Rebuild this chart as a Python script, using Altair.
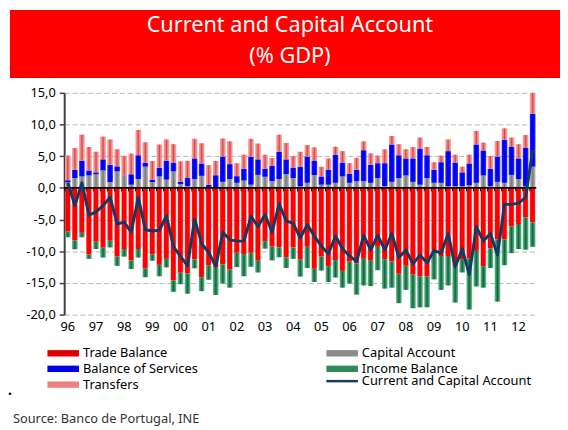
import altair as alt
import pandas as pd

FONT = "Noto Sans"

years = ["96", "97", "98", "99", "00", "01", "02", "03", "04", "05",
         "06", "07", "08", "09", "10", "11", "12"]
quarters = [f"{y}Q{q}" for y in years for q in (1, 2, 3, 4)][:67]

capital = [0.9, 1.55, 1.8, 1.95, 2.15, 2.75, 0.9, 2.6, 1.9, 0.5, 1.4, 3.35, 0.9, 1.8, 1.3, 2.6,
           0.6, 0.25, 1.4, 1.9,
           0.1, 0.05, 0.95, 1.4, 0.8, 1.15, 0.5, 2.05, 1.75, 1.05, 1.4, 2.15, 1.55, 0.25, 0.8, 2.05,
           0.5, 0.5, 0.8, 1.8, 0.8, 1.05, 1.05, 0.8,
           1.55, 0.3, 0.95, 1.55, 1.95, 0.95, 0.5, 1.55, 0.8, 0.8, 0.25, 0.25, 0.25, 0.4, 0.8, 1.95,
           0.25, 0.95, 0.8, 2.05, 1.4, 0.25, 3.35]
services = [0.3, 1.3, 2.5, 0.8, 0.3, 1.75, 2.75, 0.8, 0.05, 1.65, 3.75, 0.6, 0.4, 1.4, 3.0, 1.4,
            0.4, 1.3, 3.25, 1.95,
            0.4, 1.95, 4.0, 2.35, 1.05, 1.85, 4.4, 2.45, 1.25, 2.45, 4.3, 2.35, 1.65, 3.1, 4.15, 2.2,
            1.3, 2.35, 4.4, 2.2, 1.4, 1.8, 4.9, 2.85,
            2.35, 3.6, 5.9, 3.6, 2.7, 3.7, 5.7, 3.6, 2.05, 3.25, 5.55, 3.75, 2.2, 3.45, 6.05, 3.95,
            2.75, 4.0, 6.8, 4.4, 3.25, 6.05, 8.35]
transfers = [3.9, 3.45, 4.1, 3.7, 3.25, 3.6, 4.0, 2.7, 3.1, 3.25, 4.0, 3.25, 2.95, 3.65, 3.35, 2.9,
             3.2, 2.75, 3.1, 3.2,
             3.1, 2.25, 2.85, 3.6, 2.05, 2.25, 2.85, 2.5, 2.25, 1.2, 2.7, 2.6, 1.85, 2.35, 1.8, 2.15,
             1.55, 1.8, 1.3, 1.8, 1.7, 1.9, 1.4, 1.8,
             1.2, 2.2, 1.35, 1.75, 1.45, 1.8, 1.75, 1.3, 1.2, 1.05, 1.85, 1.25, 0.9, 1.4, 2.15, 1.25,
             2.05, 2.45, 1.8, 1.5, 2.25, 2.05, 3.3]
trade = [-6.9, -8.3, -7.1, -10.5, -8.5, -9.45, -8.35, -10.85, -9.65, -11.45, -9.65, -12.75, -10.5, -12.15, -11.2, -14.6,
         -13.4, -13.5, -11.3, -14.1,
         -12.2, -12.6, -12.1, -12.9, -10.25, -10.45, -10.25, -11.5, -8.4, -9.25, -9.4, -10.95, -9.4, -11.25, -9.3, -12.75,
         -10.85, -12.35, -11.4, -13.1, -11.65, -11.9, -11.2, -11.5,
         -9.3, -11.25, -11.6, -13.55, -12.3, -13.7, -13.95, -13.95, -9.8, -10.75, -10.75, -12.4, -11.25, -11.1, -9.95, -12.35,
         -9.55, -8.15, -8.15, -6.1, -5.7, -4.65, -5.45]
income = [-0.9, -1.4, -0.7, -0.7, -1.15, -1.55, -1.05, -1.45, -1.2, -1.35, -1.35, -1.35, -1.0, -1.8, -1.35, -1.8,
          -1.8, -3.2, -1.4, -2.2,
          -2.3, -4.3, -3.0, -2.85, -2.25, -3.5, -2.2, -1.85, -1.2, -2.2, -1.55, -1.7, -1.8, -2.75, -3.35, -2.1,
          -2.2, -2.5, -2.75, -2.65, -3.45, -4.95, -4.2, -4.0,
          -3.7, -4.65, -4.15, -4.65, -3.8, -5.3, -4.9, -4.9, -4.65, -5.35, -4.65, -5.7, -2.1, -8.1, -5.6, -3.4,
          -3.1, -9.8, -4.05, -4.2, -3.95, -5.1, -3.85]
current_capital = [0.8, -2.8, 0.8, -4.3, -3.8, -2.8, -1.45, -5.7, -5.4, -7.0, -1.5, -6.6, -6.8, -6.7, -4.4, -9.3,
                   -10.8, -12.3, -4.9, -8.8,
                   -10.2, -12.4, -7.0, -8.2, -8.4, -8.4, -4.5, -6.1, -4.2, -7.0, -2.5, -5.2, -5.6, -7.9, -5.8, -7.6,
                   -9.2, -10.4, -7.6, -9.6, -10.75, -11.6, -7.5, -9.8,
                   -7.5, -9.8, -7.2, -11.0, -9.8, -12.0, -10.6, -11.8, -9.9, -10.3, -7.2, -12.5, -9.6, -13.7, -6.1, -8.4,
                   -7.2, -10.6, -2.6, -2.6, -2.4, -1.5, 6.0]

bar_series = ["Trade Balance", "Balance of Services", "Transfers", "Capital Account", "Income Balance"]
bar_colors = ["#e00000", "#0000e6", "#f08080", "#8c8c8c", "#2e8b57"]
y_ticks = [-20, -15, -10, -5, 0, 5, 10, 15]

df = pd.DataFrame({
    "q": quarters, "capital": capital, "services": services, "transfers": transfers,
    "trade": trade, "income": income, "line": current_capital,
})


def grad(stops):
    return alt.Gradient(gradient="linear", x1=0, y1=0, x2=1, y2=0,
                        stops=[alt.GradientStop(offset=o, color=c) for o, c in stops])


yscale = alt.Scale(domain=[-20, 15], nice=False, zero=False)
yaxis = alt.Axis(
    values=y_ticks, tickCount=8,
    labelExpr="(datum.value < 0 ? '-' : '') + replace(format(abs(datum.value), '.1f'), '.', ',')",
    title=None, grid=True, gridDash=[5, 3], gridColor="#b4b4b4", gridWidth=1,
    domainColor="#404040", domainWidth=2, tickColor="#404040", tickSize=5, tickWidth=1.5,
    labelFontSize=13, labelColor="black", labelFont=FONT, labelPadding=4,
    labelOverlap=False, labelBound=False, labelFlush=False,
)
xscale = alt.Scale(paddingInner=0.2, paddingOuter=0.12)
xaxis = alt.Axis(
    values=[f"{y}Q1" for y in years], labelExpr="slice(datum.value, 0, 2)",
    title=None, ticks=False, domain=False, grid=False, labelAngle=0,
    labelFontSize=13, labelFont=FONT, labelColor="black", labelPadding=6,
)


def X(**kw):
    return alt.X("q:O", sort=quarters, scale=xscale, axis=xaxis, **kw)


def Y(f):
    return alt.Y(f"{f}:Q", scale=yscale, axis=yaxis)


base = alt.Chart(df).transform_calculate(
    zero="0",
    cap_top="datum.capital",
    svc_top="datum.capital + datum.services",
    trf_top="datum.capital + datum.services + datum.transfers",
    inc_bot="datum.trade + datum.income",
    series="'Current and Capital Account'",
)

gray_bars = base.mark_bar(color=grad([(0, "#b8b8b8"), (0.3, "#979797"), (0.5, "#787878"), (0.7, "#979797"), (1, "#c0c0c0")])).encode(
    x=X(), y=Y("zero"), y2="cap_top:Q")
blue_bars = base.mark_bar(color=grad([(0, "#2a2aff"), (0.3, "#0000f4"), (0.7, "#0000f4"), (1, "#3a3aff")])).encode(
    x=X(), y=Y("cap_top"), y2="svc_top:Q")
pink_bars = base.mark_bar(color=grad([(0, "#ffa4a4"), (0.3, "#f58080"), (0.5, "#c64c4c"), (0.7, "#f58080"), (1, "#ffacac")])).encode(
    x=X(), y=Y("svc_top"), y2="trf_top:Q")
red_bars = base.mark_bar(color=grad([(0, "#ff6a6a"), (0.15, "#ff0000"), (0.8, "#ff0000"), (1, "#ffa8a8")])).encode(
    x=X(), y=Y("zero"), y2="trade:Q")
green_bars = base.mark_bar(color=grad([(0, "#62c293"), (0.3, "#2f8c5c"), (0.5, "#1c5e3c"), (0.7, "#2f8c5c"), (1, "#6cc89b")])).encode(
    x=X(), y=Y("trade"), y2="inc_bot:Q")

legend_layer = base.transform_filter("datum.trade > 1000").mark_bar().encode(
    color=alt.Color("series:N", scale=alt.Scale(domain=bar_series, range=bar_colors),
                    legend=alt.Legend(orient="none", legendX=-17, legendY=257.5, columns=2,
                                      columnPadding=130, rowPadding=2, padding=0,
                                      symbolType="M-1.3,-0.65H5.1V0.65H-1.3Z", symbolSize=100,
                                      symbolStrokeWidth=0, symbolOpacity=1, labelOffset=23,
                                      labelFontSize=13, labelFont=FONT, labelColor="black",
                                      labelLimit=300, title=None)))

zero_rule = base.transform_filter("datum.q == '96Q1'").mark_rule(color="black", strokeWidth=2).encode(
    y=Y("zero"))
tick_rules = base.transform_calculate(tick_end="-0.55").mark_rule(color="black", strokeWidth=1).encode(
    x=X(bandPosition=0), y=Y("zero"), y2="tick_end:Q")

line = base.mark_line(strokeWidth=3, strokeJoin="round").encode(
    x=X(), y=Y("line"),
    stroke=alt.Stroke("series:N", scale=alt.Scale(range=["#123a63"]),
                      legend=alt.Legend(orient="none", legendX=266, legendY=286, padding=0,
                                        symbolType="M-1.3,0H5.1", symbolSize=100,
                                        symbolStrokeWidth=2.5, labelOffset=23,
                                        labelFontSize=13, labelFont=FONT, labelColor="black",
                                        labelLimit=300, title=None)))

one = alt.Data(values=[{"a": 1}])
banner = alt.Chart(one).mark_rect(color="#ff0000").encode(
    x=alt.value(-55), x2=alt.value(503), y=alt.value(-84), y2=alt.value(-15))
title1 = alt.Chart(one).mark_text(text="Current and Capital Account", font=FONT, fontSize=22,
                                  color="white", align="center", baseline="alphabetic").encode(
    x=alt.value(229), y=alt.value(-62))
title2 = alt.Chart(one).mark_text(text="(% GDP)", font=FONT, fontSize=22,
                                  color="white", align="center", baseline="alphabetic").encode(
    x=alt.value(229), y=alt.value(-30))
source = alt.Chart(one).mark_text(text="Source: Banco de Portugal, INE", font=FONT, fontSize=13,
                                  color="#333333", align="left", baseline="alphabetic").encode(
    x=alt.value(-52), y=alt.value(335))
dot = alt.Chart(one).mark_text(text=".", font=FONT, fontSize=14, fontWeight="bold",
                               color="black", align="left", baseline="alphabetic").encode(
    x=alt.value(-57), y=alt.value(307))

chart = alt.layer(
    gray_bars, blue_bars, pink_bars, red_bars, green_bars,
    zero_rule, tick_rules, line, legend_layer,
    banner, title1, title2, source, dot,
).resolve_scale(color="independent").properties(
    width=479, height=225,
    padding={"left": 57, "top": 83, "right": 24, "bottom": 114},
    autosize=alt.AutoSizeParams(type="none"),
).configure_view(stroke=None)

chart.save("out.html", embed_options={"renderer": "svg", "actions": False})
